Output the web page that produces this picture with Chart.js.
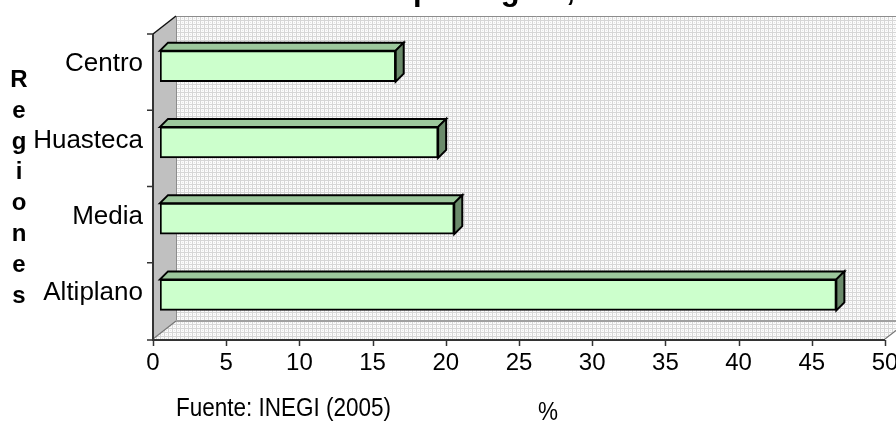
<!DOCTYPE html>
<html><head><meta charset="utf-8">
<script src="https://cdn.jsdelivr.net/npm/chart.js@4.4.0/dist/chart.umd.min.js"></script>
<style>html,body{margin:0;padding:0;background:#fff;overflow:hidden}#wrap{width:896px;height:426px;position:relative}</style>
</head><body><div id="wrap"><canvas id="c" width="896" height="426"></canvas></div>
<script>
// ---- data ----
const categories = ['Centro', 'Huasteca', 'Media', 'Altiplano'];
const values = [16.1, 19, 20.1, 46.2];
const xTickStep = 5;
const xMin = 0;
const xMax = 50;
const titleText = 'Población total por región, 2005';
const titleAnchor = 'por región, 2005';
const yTitleLetters = ['R', 'e', 'g', 'i', 'o', 'n', 'e', 's'];
const xTitle = '%';
const sourceNote = 'Fuente: INEGI (2005)';

// ---- style ----
const FONT = '"Liberation Sans", Arial, sans-serif';
const WALL = { dx: 23, dy: -18 };
const BAR = { sx: 7, sy: -6, dx: 8, dy: -8 };

function makePattern(ctx) {
  const p = document.createElement('canvas');
  p.width = 4; p.height = 4;
  const g = p.getContext('2d');
  g.fillStyle = '#FBFBFB'; g.fillRect(0, 0, 4, 4);
  g.fillStyle = '#D6D6D6';
  g.fillRect(0, 0, 4, 1);
  g.fillRect(0, 0, 1, 4);
  g.fillStyle = '#E4E4E4';
  g.fillRect(2, 2, 1, 1);
  return ctx.createPattern(p, 'repeat');
}

const decor = {
  id: 'decor',
  beforeDatasetsDraw(chart) {
    const ctx = chart.ctx, ca = chart.chartArea;
    const L = ca.left, R = ca.right, T = ca.top, B = ca.bottom;
    const pat = makePattern(ctx);
    ctx.save();
    // back wall
    ctx.fillStyle = pat;
    ctx.fillRect(L + WALL.dx, T + WALL.dy, (R - L) + 40, (B - T));
    // floor
    ctx.beginPath();
    ctx.moveTo(L, B); ctx.lineTo(L + WALL.dx, B + WALL.dy);
    ctx.lineTo(R + WALL.dx, B + WALL.dy); ctx.lineTo(R, B); ctx.closePath();
    ctx.fill();
    // left wall
    ctx.fillStyle = '#C0C0C0';
    ctx.beginPath();
    ctx.moveTo(L, T); ctx.lineTo(L + WALL.dx, T + WALL.dy);
    ctx.lineTo(L + WALL.dx, B + WALL.dy); ctx.lineTo(L, B); ctx.closePath();
    ctx.fill();
    // edges
    ctx.lineWidth = 1;
    ctx.strokeStyle = '#8C8C8C';
    ctx.beginPath();
    ctx.moveTo(L + WALL.dx, T + WALL.dy + 0.5); ctx.lineTo(R + WALL.dx + 40, T + WALL.dy + 0.5);
    ctx.moveTo(L + WALL.dx + 0.5, T + WALL.dy); ctx.lineTo(L + WALL.dx + 0.5, B + WALL.dy);
    ctx.stroke();
    ctx.strokeStyle = '#A0A0A0';
    ctx.lineWidth = 2;
    ctx.beginPath();
    ctx.moveTo(L + WALL.dx, B + WALL.dy); ctx.lineTo(R + WALL.dx + 40, B + WALL.dy);
    ctx.stroke();
    ctx.lineWidth = 1.2;
    ctx.strokeStyle = '#777777';
    ctx.beginPath();
    ctx.moveTo(L, B); ctx.lineTo(L + WALL.dx, B + WALL.dy);
    ctx.moveTo(R, B); ctx.lineTo(R + WALL.dx, B + WALL.dy);
    ctx.stroke();
    ctx.strokeStyle = '#111111';
    ctx.lineWidth = 1.5;
    ctx.beginPath();
    ctx.moveTo(L, T); ctx.lineTo(L + WALL.dx, T + WALL.dy);
    ctx.stroke();
    // axes
    ctx.strokeStyle = '#333333';
    ctx.lineWidth = 2;
    ctx.beginPath();
    ctx.moveTo(L, T); ctx.lineTo(L, B + 1); ctx.lineTo(R, B + 1);
    ctx.stroke();
    // ticks
    ctx.lineWidth = 1.5;
    ctx.beginPath();
    const ys = chart.scales.y;
    for (let i = 0; i <= categories.length; i++) {
      let y;
      if (i === 0) y = T; else if (i === categories.length) y = B + 1;
      else y = (ys.getPixelForValue(i - 1) + ys.getPixelForValue(i)) / 2;
      ctx.moveTo(L - 6, y); ctx.lineTo(L, y);
    }
    const xs = chart.scales.x;
    for (let v = xMin; v <= xMax; v += xTickStep) {
      const x = Math.round(xs.getPixelForValue(v)) + 0.5;
      ctx.moveTo(x, B + 1); ctx.lineTo(x, B + 7);
    }
    ctx.stroke();
    ctx.restore();

    // bar top and side faces
    const meta = chart.getDatasetMeta(0);
    ctx.save();
    ctx.lineWidth = 2;
    ctx.strokeStyle = '#000000';
    ctx.lineJoin = 'miter';
    meta.data.forEach(el => {
      const p = el.getProps(['x', 'y', 'base', 'height'], true);
      const x0 = p.base + BAR.sx, x1 = p.x + BAR.sx;
      const y0 = p.y - p.height / 2 + BAR.sy, y1 = p.y + p.height / 2 + BAR.sy;
      ctx.fillStyle = '#9CC79C';
      ctx.beginPath();
      ctx.moveTo(x0, y0); ctx.lineTo(x0 + BAR.dx, y0 + BAR.dy);
      ctx.lineTo(x1 + BAR.dx, y0 + BAR.dy); ctx.lineTo(x1, y0); ctx.closePath();
      ctx.fill(); ctx.stroke();
      ctx.fillStyle = '#6B8B6B';
      ctx.beginPath();
      ctx.moveTo(x1, y0); ctx.lineTo(x1 + BAR.dx, y0 + BAR.dy);
      ctx.lineTo(x1 + BAR.dx, y1 + BAR.dy); ctx.lineTo(x1, y1); ctx.closePath();
      ctx.fill(); ctx.stroke();
    });
    ctx.restore();
    // shift the front faces drawn by Chart.js
    ctx.save();
    ctx.translate(BAR.sx, BAR.sy);
  },
  afterDatasetsDraw(chart) {
    chart.ctx.restore();
  },
  afterDraw(chart) {
    const ctx = chart.ctx;
    ctx.save();
    ctx.fillStyle = '#000000';
    // title (mostly above the top edge)
    ctx.font = 'bold 31px ' + FONT;
    ctx.textAlign = 'left';
    ctx.textBaseline = 'alphabetic';
    const prefix = titleText.slice(0, titleText.indexOf(titleAnchor));
    ctx.fillText(titleText, 413 - ctx.measureText(prefix).width, 0);
    // vertical letters axis title
    ctx.font = 'bold 24px ' + FONT;
    ctx.textAlign = 'center';
    yTitleLetters.forEach((ch, i) => ctx.fillText(ch, 19, 87 + 30.8 * i));
    // x axis title and source
    ctx.font = '25px ' + FONT;
    ctx.textBaseline = 'middle';
    ctx.save();
    ctx.translate(548, 413); ctx.scale(0.9, 1);
    ctx.fillText(xTitle, 0, 0);
    ctx.restore();
    ctx.textAlign = 'left';
    ctx.save();
    ctx.translate(176, 409); ctx.scale(0.9, 1);
    ctx.fillText(sourceNote, 0, 0);
    ctx.restore();
    ctx.restore();
  }
};

new Chart(document.getElementById('c'), {
  type: 'bar',
  data: {
    labels: categories,
    datasets: [{
      data: values,
      backgroundColor: '#CCFFCC',
      borderColor: '#000000',
      borderWidth: 2,
      barThickness: 31,
      borderSkipped: false
    }]
  },
  options: {
    indexAxis: 'y',
    responsive: false,
    animation: false,
    devicePixelRatio: 1,
    layout: { padding: { top: 34, right: 11, left: 0, bottom: 0 } },
    plugins: { legend: { display: false }, tooltip: { enabled: false }, title: { display: false } },
    scales: {
      x: {
        type: 'linear', min: xMin, max: xMax,
        grid: { display: false, drawTicks: false }, border: { display: false },
        ticks: { stepSize: xTickStep, color: '#000', padding: 10, font: { family: FONT, size: 24 } },
        afterFit(s) { s.height = 87; s.paddingLeft = 0; s.paddingRight = 0; }
      },
      y: {
        type: 'category',
        grid: { display: false, drawTicks: false }, border: { display: false },
        ticks: { color: '#000', padding: 10, labelOffset: -8, font: { family: FONT, size: 26 } },
        afterFit(s) { s.width = 153; s.paddingTop = 0; s.paddingBottom = 0; }
      }
    }
  },
  plugins: [decor]
});
</script>
</body></html>
